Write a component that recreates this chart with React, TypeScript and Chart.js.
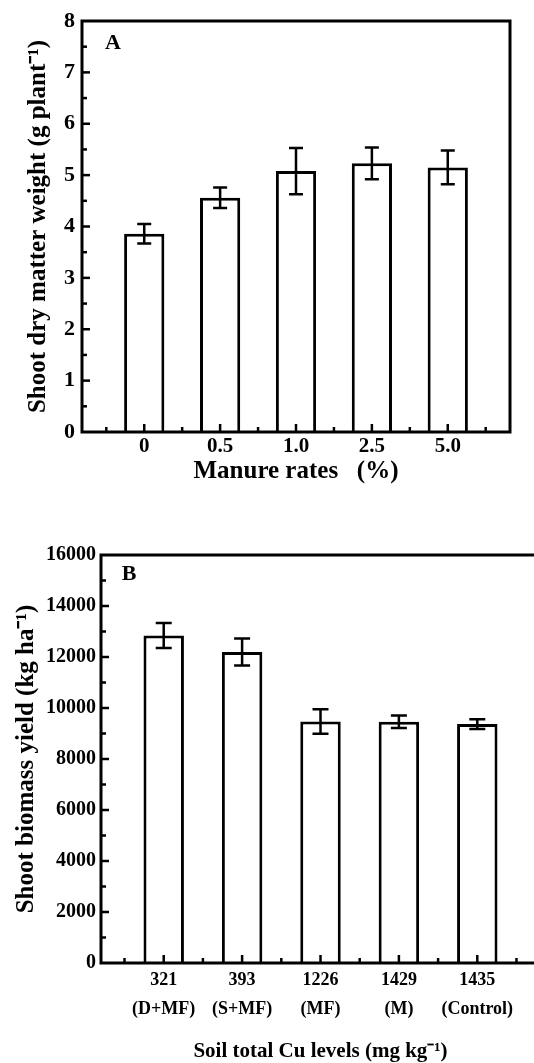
import React, { useEffect, useRef } from "react";
import { Chart, registerables } from "chart.js";

Chart.register(...registerables);

// ---------- Data: panel A ----------
const manureRates = ["0", "0.5", "1.0", "2.5", "5.0"];
const shootDryMatter = [3.86, 4.56, 5.08, 5.23, 5.15];
const shootDryMatterErr = [0.19, 0.2, 0.45, 0.31, 0.33];
const yMaxA = 8;
const yStepA = 1;

// ---------- Data: panel B ----------
const cuLevels = ["321", "393", "1226", "1429", "1435"];
const treatments = ["(D+MF)", "(S+MF)", "(MF)", "(M)", "(Control)"];
const shootBiomass = [12840, 12200, 9470, 9460, 9370];
const shootBiomassErr = [490, 530, 480, 245, 190];
const yMaxB = 16000;
const yStepB = 2000;

const FONT = '"Liberation Serif", "Times New Roman", serif';

type PanelCfg = {
  errors: number[];
  capHalf: number;
  letter: string;
  letterDx: number;
  letterDy: number;
  letterSize: number;
  yMinorStep: number;
  yMajorStep: number;
  yMax: number;
};

function makePanelPlugin(cfg: PanelCfg) {
  return {
    id: "panelDecor",
    afterDatasetsDraw(chart: any) {
      const { ctx, chartArea, scales } = chart;
      const { left, right, top, bottom } = chartArea;
      const x = scales.x;
      const y = scales.y;
      ctx.save();
      ctx.strokeStyle = "#000";
      ctx.lineCap = "butt";

      // error bars
      const ds = chart.data.datasets[0];
      const meta = chart.getDatasetMeta(0);
      ctx.lineWidth = 2.5;
      meta.data.forEach((bar: any, i: number) => {
        const v = ds.data[i].y;
        const e = cfg.errors[i];
        const yt = y.getPixelForValue(v + e);
        const yb = y.getPixelForValue(v - e);
        const cx = bar.x;
        ctx.beginPath();
        ctx.moveTo(cx, yt);
        ctx.lineTo(cx, yb);
        ctx.moveTo(cx - cfg.capHalf, yt);
        ctx.lineTo(cx + cfg.capHalf, yt);
        ctx.moveTo(cx - cfg.capHalf, yb);
        ctx.lineTo(cx + cfg.capHalf, yb);
        ctx.stroke();
      });

      // inward ticks on left axis
      ctx.lineWidth = 2.5;
      const nY = Math.round(cfg.yMax / cfg.yMinorStep);
      for (let k = 1; k < nY; k++) {
        const v = k * cfg.yMinorStep;
        const py = y.getPixelForValue(v);
        const major = Math.abs(v / cfg.yMajorStep - Math.round(v / cfg.yMajorStep)) < 1e-6;
        const len = major ? 8 : 5;
        ctx.beginPath();
        ctx.moveTo(left, py);
        ctx.lineTo(left + len, py);
        ctx.stroke();
      }
      // inward ticks on bottom axis
      for (let k = -1; k <= 9; k++) {
        const v = k * 0.5;
        const px = x.getPixelForValue(v);
        if (px <= left + 2 || px >= right - 2) continue;
        const major = k % 2 === 0;
        const len = major ? 8 : 5;
        ctx.beginPath();
        ctx.moveTo(px, bottom);
        ctx.lineTo(px, bottom - len);
        ctx.stroke();
      }

      // frame
      ctx.lineWidth = 3;
      ctx.strokeRect(left, top, right - left, bottom - top);

      // panel letter
      ctx.fillStyle = "#000";
      ctx.font = `bold ${cfg.letterSize}px ${FONT}`;
      ctx.textAlign = "center";
      ctx.textBaseline = "middle";
      ctx.fillText(cfg.letter, left + cfg.letterDx, top + cfg.letterDy);
      ctx.restore();
    },
  };
}

function PanelA() {
  const ref = useRef<HTMLCanvasElement | null>(null);
  useEffect(() => {
    if (!ref.current) return;
    const chart = new Chart(ref.current, {
      type: "bar",
      data: {
        datasets: [
          {
            data: shootDryMatter.map((v, i) => ({ x: i, y: v })),
            backgroundColor: "#fff",
            borderColor: "#000",
            borderWidth: 3,
            categoryPercentage: 1,
            barPercentage: 0.53,
          },
        ],
      },
      options: {
        responsive: false,
        animation: false,
        events: [],
        layout: { padding: { top: 21, right: 24, left: 0, bottom: 0 } },
        plugins: { legend: { display: false }, tooltip: { enabled: false } },
        scales: {
          x: {
            type: "linear",
            offset: false,
            min: -0.82,
            max: 4.82,
            grid: { display: false, drawTicks: false, offset: false },
            border: { display: false },
            afterBuildTicks: (s: any) => {
              s.ticks = manureRates.map((_, i) => ({ value: i }));
            },
            afterFit: (s: any) => {
              s.height = 68;
            },
            ticks: {
              autoSkip: false,
              maxRotation: 0,
              padding: 1.5,
              color: "#000",
              font: { family: FONT, size: 21, weight: "bold" },
              callback: (v: any) => manureRates[Math.round(Number(v))],
            },
            title: {
              display: true,
              text: "Manure rates   (%)",
              color: "#000",
              font: { family: FONT, size: 25, weight: "bold" },
              padding: { top: 0, bottom: 13 },
            },
          },
          y: {
            min: 0,
            max: yMaxA,
            grid: { display: false, drawTicks: false },
            border: { display: false },
            afterFit: (s: any) => {
              s.width = 82;
            },
            ticks: {
              stepSize: yStepA,
              padding: 7,
              color: "#000",
              font: { family: FONT, size: 22, weight: "bold" },
              callback: (v: any) => String(v),
            },
            title: {
              display: true,
              text: "Shoot dry matter weight (g plant\u207B\u00B9)",
              color: "#000",
              font: { family: FONT, size: 25, weight: "bold" },
              padding: { top: 24, bottom: 0 },
            },
          },
        },
      } as any,
      plugins: [
        makePanelPlugin({
          errors: shootDryMatterErr,
          capHalf: 7,
          letter: "A",
          letterDx: 31,
          letterDy: 22,
          letterSize: 22,
          yMinorStep: 0.5,
          yMajorStep: 1,
          yMax: yMaxA,
        }),
      ],
    });
    return () => chart.destroy();
  }, []);
  return (
    <canvas
      ref={ref}
      width={534}
      height={500}
      style={{ position: "absolute", left: 0, top: 0, width: 534, height: 500 }}
    />
  );
}

function PanelB() {
  const ref = useRef<HTMLCanvasElement | null>(null);
  useEffect(() => {
    if (!ref.current) return;
    const chart = new Chart(ref.current, {
      type: "bar",
      data: {
        datasets: [
          {
            data: shootBiomass.map((v, i) => ({ x: i, y: v })),
            backgroundColor: "#fff",
            borderColor: "#000",
            borderWidth: 3,
            categoryPercentage: 1,
            barPercentage: 0.516,
          },
        ],
      },
      options: {
        responsive: false,
        animation: false,
        events: [],
        layout: { padding: { top: 25, right: 20, left: 0, bottom: 0 } },
        plugins: { legend: { display: false }, tooltip: { enabled: false } },
        scales: {
          x: {
            type: "linear",
            offset: false,
            min: -0.8,
            max: 4.8,
            grid: { display: false, drawTicks: false, offset: false },
            border: { display: false },
            afterBuildTicks: (s: any) => {
              s.ticks = cuLevels.map((_, i) => ({ value: i }));
            },
            afterFit: (s: any) => {
              s.height = 102;
            },
            ticks: {
              autoSkip: false,
              maxRotation: 0,
              padding: 2,
              color: "#000",
              font: { family: FONT, size: 18, weight: "bold", lineHeight: 1.65 },
              callback: (v: any) => {
                const i = Math.round(Number(v));
                return [cuLevels[i], treatments[i]];
              },
            },
            title: {
              display: true,
              text: "Soil total Cu levels (mg kg\u207B\u00B9)",
              color: "#000",
              font: { family: FONT, size: 21, weight: "bold" },
              padding: { top: 0, bottom: 1 },
            },
          },
          y: {
            min: 0,
            max: yMaxB,
            grid: { display: false, drawTicks: false },
            border: { display: false },
            afterFit: (s: any) => {
              s.width = 101;
            },
            ticks: {
              stepSize: yStepB,
              padding: 5,
              color: "#000",
              font: { family: FONT, size: 20, weight: "bold" },
              callback: (v: any) => String(v),
            },
            title: {
              display: true,
              text: "Shoot biomass yield (kg ha\u207B\u00B9)",
              color: "#000",
              font: { family: FONT, size: 25, weight: "bold" },
              padding: { top: 12, bottom: 0 },
            },
          },
        },
      } as any,
      plugins: [
        makePanelPlugin({
          errors: shootBiomassErr,
          capHalf: 8,
          letter: "B",
          letterDx: 28,
          letterDy: 19,
          letterSize: 22,
          yMinorStep: 1000,
          yMajorStep: 2000,
          yMax: yMaxB,
        }),
      ],
    });
    return () => chart.destroy();
  }, []);
  return (
    <canvas
      ref={ref}
      width={560}
      height={535}
      style={{ position: "absolute", left: 0, top: 530, width: 560, height: 535 }}
    />
  );
}

export default function App() {
  return (
    <div
      style={{
        position: "fixed",
        left: 0,
        top: 0,
        width: 534,
        height: 1063,
        overflow: "hidden",
        background: "#fff",
      }}
    >
      <PanelA />
      <PanelB />
    </div>
  );
}
